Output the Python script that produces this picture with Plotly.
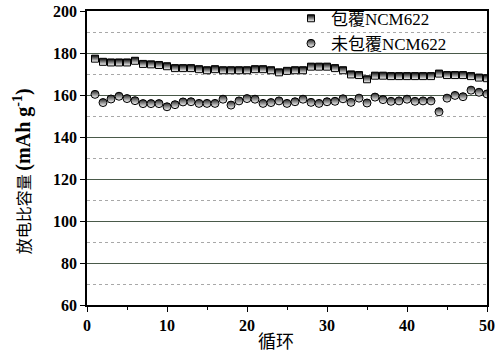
import plotly.graph_objects as go

cycles = list(range(1, 51))
coated = [177.3, 175.8, 175.5, 175.5, 175.5, 176.3, 174.8, 174.6, 174.3, 173.7,
          172.8, 172.8, 172.8, 172.3, 171.8, 172.3, 171.8, 171.8, 171.8, 171.8,
          172.3, 172.3, 171.8, 170.8, 171.5, 171.8, 171.8, 173.5, 173.5, 173.5,
          172.8, 171.8, 169.8, 169.5, 167.5, 169.2, 169.2, 169.0, 169.0, 169.0,
          169.0, 169.0, 169.0, 170.2, 169.5, 169.5, 169.5, 169.0, 168.3, 168.0]
uncoated = [160.3, 156.4, 158.1, 159.4, 158.3, 157.3, 155.9, 155.9, 155.9, 154.4,
            155.4, 156.7, 156.8, 156.0, 156.0, 156.0, 158.0, 155.2, 157.2, 158.3,
            158.0, 156.0, 156.4, 157.2, 156.0, 156.8, 158.0, 156.5, 156.0, 156.8,
            157.0, 158.2, 156.5, 158.5, 156.2, 159.0, 157.8, 157.0, 157.2, 158.0,
            157.0, 157.2, 157.2, 152.0, 158.5, 159.8, 159.2, 162.3, 161.3, 160.5]
names = ["包覆NCM622", "未包覆NCM622"]
x_ticks = [0, 10, 20, 30, 40, 50]
y_ticks = [60, 80, 100, 120, 140, 160, 180, 200]
x_title = "循环"
y_title = ("放电比容量 <span style='font-family:Liberation Serif;font-size:20px;font-weight:bold'>"
           "(mAh g<sup>-1</sup>)</span>")

serif = '"Liberation Serif", "Times New Roman", "Noto Sans CJK SC", serif'
cjk = '"Noto Sans CJK SC", "Liberation Serif", sans-serif'

fig = go.Figure()
fig.add_trace(go.Scatter(
    x=cycles, y=coated, mode="markers", name=names[0],
    marker=dict(symbol="square", size=7, color="black",
                gradient=dict(type="vertical", color="white"),
                line=dict(color="black", width=1)),
))
fig.add_trace(go.Scatter(
    x=cycles, y=uncoated, mode="markers", name=names[1],
    marker=dict(symbol="circle", size=8, color="#222222",
                gradient=dict(type="vertical", color="white"),
                line=dict(color="black", width=1)),
))

fig.update_layout(
    width=500, height=353,
    margin=dict(l=87, r=13, t=11, b=48, autoexpand=False),
    paper_bgcolor="white", plot_bgcolor="white",
    showlegend=True,
    legend=dict(x=0.51, y=1.035, xanchor="left", yanchor="top",
                bgcolor="rgba(0,0,0,0)", font=dict(family=serif, size=17, color="black"),
                itemwidth=30),
    xaxis=dict(range=[0, 50], tickvals=x_ticks, ticks="outside", ticklen=5,
               tickwidth=1.2, tickcolor="black", automargin=False,
               showline=True, linecolor="black", linewidth=1.5, mirror=True,
               showgrid=False, zeroline=False,
               tickfont=dict(family=serif, size=16, color="black", weight="bold"),
               minor=dict(dtick=5, tick0=0, ticks="outside", ticklen=3, tickcolor="black", showgrid=False)),
    yaxis=dict(range=[60, 200], tickvals=y_ticks, ticks="outside", ticklen=5,
               tickwidth=1.2, tickcolor="black", automargin=False,
               showline=True, linecolor="black", linewidth=1.5, mirror=True,
               showgrid=True, gridcolor="#4a5a4a", gridwidth=1, zeroline=False,
               tickfont=dict(family=serif, size=16, color="black", weight="bold"),
               minor=dict(dtick=10, tick0=60, ticks="", showgrid=True,
                          gridcolor="#a8a8a8", griddash="dot", gridwidth=1)),
    annotations=[
        dict(text=x_title, xref="paper", yref="paper", x=0.4725, y=-0.118,
             xanchor="center", yanchor="middle", showarrow=False,
             font=dict(family=cjk, size=18, color="black")),
        dict(text=y_title, xref="paper", yref="paper", x=-0.1625, y=0.455,
             xanchor="center", yanchor="middle", showarrow=False, textangle=-90,
             font=dict(family=cjk, size=16, color="black")),
    ],
)

fig.write_html("out.html", config={"displayModeBar": False},
               post_script="document.body.style.margin='0';document.body.style.overflow='hidden';")
